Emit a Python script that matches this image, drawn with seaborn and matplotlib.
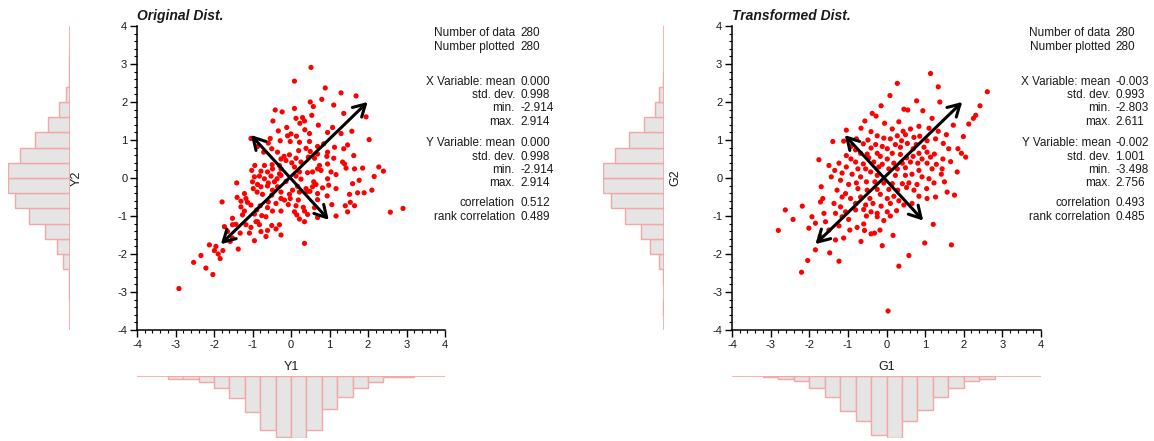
import numpy as np
import pandas as pd
import matplotlib
matplotlib.use("Agg")
import matplotlib.pyplot as plt
from matplotlib.ticker import MultipleLocator
import seaborn as sns

# ---------------- data ----------------
orig_x = [0.52, 0.09, 0.89, 1.30, 1.69, 0.80, 0.50, 1.11, 0.58, 0.09, -0.41, -0.23, 1.37, 0.54, 0.30,
          1.95, 0.13, 0.35, -0.47, 0.23, 0.71, -0.11, 1.08, 0.36, -0.33, 0.95, 1.58, 0.00, -0.09, 0.14,
          0.48, -0.54, -1.04, 1.30, -0.28, -0.02, 0.22, 0.48, 2.03, 0.85, 1.47, -0.59, -0.87, 0.69, 1.13,
          0.39, 1.37, -0.50, 0.20, -0.35, 0.50, -0.71, 0.69, 0.95, 0.93, 1.63, -0.04, -0.18, -0.26, 0.13,
          0.45, 0.61, 1.11, 1.34, -0.13, 0.02, -0.69, -0.49, -0.94, 0.26, 0.74, 0.69, 1.39, -0.30, -0.48,
          -0.26, 0.09, 0.95, -1.02, -0.78, -0.61, 1.43, 1.65, 1.86, 2.28, 2.40, 1.04, 0.78, 0.22, -0.30,
          -0.26, 0.13, -0.82, 0.43, 0.56, -0.95, -0.52, 1.17, 2.16, -0.69, -0.36, 0.95, 0.26, 1.77, -1.41,
          -1.00, -0.87, -0.59, -0.43, -0.13, 0.59, 0.65, -0.78, -0.61, -0.35, 0.17, 0.39, 0.56, 0.82, 1.17,
          1.60, 0.98, 0.04, 0.49, -0.98, -0.88, -0.48, -0.26, 0.22, 0.43, -1.21, -0.74, -0.50, -0.04, 0.69,
          1.90, 2.10, 1.73, 1.52, -1.40, -1.17, -0.26, -0.02, 0.94, 0.69, 0.19, -1.79, -1.30, -1.13, -0.59,
          -0.39, -0.17, -0.07, 1.54, 1.06, -1.30, -1.04, -0.80, -0.61, 0.13, 0.32, 0.61, 1.41, 1.65, -1.21,
          -0.89, -0.48, -0.26, 0.35, 0.43, 0.09, -1.52, -1.26, -0.65, -0.76, -0.95, 0.15, 1.17, 1.47, 2.58,
          2.91, -1.43, -0.91, -0.82, -1.04, -0.50, -0.30, 0.22, 0.35, 0.69, -1.73, -1.52, -1.17, -0.87, -1.65,
          -1.32, -1.08, -0.78, -0.61, -0.39, -0.26, -0.65, -1.52, -1.58, -0.95, -2.12, -1.95, 0.35, -1.99, -1.77,
          -1.37, -2.34, -1.89, -1.84, -2.53, -2.21, -2.03, -2.91]
orig_y = [2.91, 2.55, 2.37, 2.24, 2.16, 2.07, 2.00, 1.92, 1.88, 1.83, 1.79, 1.74, 1.70, 1.65, 1.59,
          1.61, 1.57, 1.50, 1.50, 1.44, 1.39, 1.33, 1.33, 1.27, 1.24, 1.20, 1.23, 1.16, 1.11, 1.10,
          1.17, 1.04, 1.04, 1.17, 0.98, 0.96, 0.94, 0.96, 1.01, 0.90, 0.87, 0.92, 0.83, 0.83, 0.81,
          0.78, 0.77, 0.77, 0.72, 0.68, 0.70, 0.68, 0.63, 0.68, 0.57, 0.59, 0.61, 0.57, 0.50, 0.52,
          0.55, 0.52, 0.52, 0.42, 0.46, 0.40, 0.33, 0.35, 0.33, 0.42, 0.33, 0.24, 0.37, 0.33, 0.24,
          0.24, 0.29, 0.37, 0.20, 0.18, 0.16, 0.26, 0.24, 0.26, 0.29, 0.18, 0.16, 0.20, 0.16, 0.11,
          0.07, 0.05, 0.05, 0.14, 0.16, 0.03, 0.05, 0.09, 0.04, -0.02, -0.02, -0.02, -0.03, -0.06, -0.13,
          -0.10, -0.17, -0.13, -0.10, -0.09, -0.10, -0.17, -0.23, -0.21, -0.23, -0.22, -0.28, -0.23, -0.26, -0.28,
          -0.15, -0.19, -0.32, -0.35, -0.28, -0.37, -0.32, -0.37, -0.37, -0.35, -0.41, -0.43, -0.45, -0.43, -0.41,
          -0.39, -0.32, -0.39, -0.43, -0.51, -0.54, -0.54, -0.54, -0.47, -0.57, -0.58, -0.63, -0.61, -0.64, -0.63,
          -0.67, -0.58, -0.70, -0.64, -0.70, -0.76, -0.71, -0.73, -0.78, -0.73, -0.77, -0.78, -0.73, -0.73, -0.87,
          -0.84, -0.87, -0.87, -0.87, -0.96, -0.89, -1.06, -0.97, -1.02, -0.99, -0.95, -0.97, -1.00, -0.89, -0.90,
          -0.80, -1.22, -1.15, -1.23, -1.30, -1.25, -1.23, -1.08, -1.15, -1.04, -1.28, -1.23, -1.23, -1.15, -1.41,
          -1.45, -1.45, -1.41, -1.38, -1.34, -1.50, -1.54, -1.58, -1.67, -1.65, -1.76, -1.80, -1.72, -1.91, -1.91,
          -1.87, -2.04, -2.00, -2.12, -2.22, -2.37, -2.54, -2.91]

trans_x = [1.14, 0.28, 1.34, 2.61, 0.09, 0.78, 1.38, -0.14, 2.42, 0.45, 0.55, 0.94, -0.37, -0.27, 2.31,
           2.25, 1.18, -0.56, 0.32, -0.05, 0.84, 1.73, 2.13, -1.04, -0.66, 0.62, 1.10, 1.34, 0.15, -0.24,
           0.49, 0.28, 0.71, 0.86, 1.55, 1.99, -0.40, 0.43, -1.39, -0.78, -0.07, 0.10, -0.48, 0.39, 1.05,
           1.27, -1.11, -0.60, -0.28, 0.23, 0.54, 0.77, 1.47, -0.92, -0.40, -0.11, 0.02, 0.36, 0.69, 0.97,
           1.61, 1.85, -0.80, -1.04, -0.67, -0.50, -0.24, 0.15, 0.36, 0.84, 1.05, 1.24, 1.94, 2.05, -1.75,
           -0.92, -0.46, -0.16, 0.02, 0.52, 0.69, 0.92, 1.14, 1.46, 1.66, -1.49, -1.23, -0.80, -0.60, -0.33,
           -0.11, 0.19, 0.41, 0.62, 0.81, 1.05, 1.29, -1.34, -1.04, -0.74, -0.54, -0.41, -0.20, 0.06, 0.28,
           0.49, 0.84, 1.18, 1.44, 1.83, -1.43, -1.15, -0.89, -0.67, -0.24, 0.23, 0.49, 0.66, 0.92, 1.10,
           1.42, -1.19, -0.98, -0.78, -0.52, -0.30, -0.07, 0.15, 0.41, 0.58, 0.79, 1.23, 1.50, -1.69, -1.28,
           -1.06, -0.74, -0.50, -0.24, 0.06, 0.29, 0.52, 0.71, 1.04, 1.57, 1.76, -1.65, -1.36, -1.15, -0.93,
           -0.67, -0.43, -0.16, 0.02, 0.19, 0.32, 0.84, 1.05, 1.27, -2.18, -1.71, -1.19, -0.80, -0.54, -0.35,
           -0.14, 0.10, 0.45, 0.66, -2.62, -1.62, -1.32, -1.06, -0.80, -0.59, -0.40, -0.24, 0.02, 0.26, -2.42,
           -1.93, -1.58, -1.15, -0.98, -0.52, -0.24, -0.07, 0.10, 1.21, -2.01, -1.84, -1.49, -1.23, -0.95, -0.76,
           -0.57, -0.40, -0.17, -0.59, -1.71, -1.32, -1.11, -0.66, -0.31, -0.11, 0.17, 0.99, 1.68, -1.84, -1.47,
           -2.04, -1.23, 0.58, 0.32, -2.20, 0.04, -2.80]
trans_y = [2.75, 2.49, 2.40, 2.27, 2.17, 2.03, 2.00, 1.90, 1.90, 1.81, 1.79, 1.77, 1.70, 1.63, 1.65,
           1.57, 1.57, 1.50, 1.48, 1.44, 1.36, 1.39, 1.42, 1.26, 1.31, 1.29, 1.31, 1.23, 1.29, 1.11,
           1.14, 1.11, 1.07, 1.10, 1.14, 1.09, 1.22, 1.23, 0.96, 1.03, 1.05, 1.03, 1.00, 0.98, 0.98,
           1.03, 0.97, 0.90, 0.88, 0.88, 0.91, 0.88, 0.91, 0.83, 0.79, 0.83, 0.77, 0.81, 0.77, 0.81,
           0.77, 0.77, 0.74, 0.59, 0.65, 0.63, 0.65, 0.65, 0.62, 0.65, 0.68, 0.63, 0.65, 0.55, 0.48,
           0.50, 0.53, 0.57, 0.50, 0.53, 0.57, 0.50, 0.55, 0.50, 0.43, 0.33, 0.39, 0.42, 0.37, 0.42,
           0.36, 0.39, 0.39, 0.42, 0.39, 0.39, 0.36, 0.20, 0.29, 0.24, 0.24, 0.16, 0.29, 0.24, 0.24,
           0.27, 0.20, 0.24, 0.24, 0.16, 0.03, 0.13, 0.10, 0.03, 0.07, 0.07, 0.07, 0.10, 0.03, -0.02,
           0.10, -0.06, -0.17, -0.13, -0.10, -0.10, -0.13, -0.15, -0.15, -0.13, -0.17, -0.13, -0.10, -0.23, -0.32,
           -0.41, -0.28, -0.32, -0.30, -0.30, -0.32, -0.25, -0.32, -0.28, -0.37, -0.45, -0.54, -0.67, -0.50, -0.54,
           -0.50, -0.54, -0.43, -0.54, -0.48, -0.60, -0.48, -0.54, -0.50, -0.74, -0.63, -0.76, -0.67, -0.71, -0.67,
           -0.74, -0.67, -0.71, -0.67, -0.84, -0.93, -0.93, -0.89, -0.84, -0.83, -0.89, -0.93, -0.89, -0.86, -1.09,
           -1.02, -1.15, -1.02, -1.09, -1.00, -1.02, -1.12, -1.00, -1.22, -1.32, -1.19, -1.37, -1.26, -1.37, -1.30,
           -1.38, -1.47, -1.37, -1.21, -1.54, -1.63, -1.58, -1.67, -1.45, -1.78, -1.51, -1.71, -1.76, -1.89, -1.97,
           -2.17, -2.19, -2.04, -2.32, -2.48, -3.50, -1.38]

# marginal histogram counts (bin edges in data units)
y1_edges = [-3.2, -2.8, -2.4, -2.0, -1.6, -1.2, -0.8, -0.4, 0.0, 0.4, 0.8, 1.2, 1.6, 2.0, 2.4, 2.8, 3.2]
y1_counts = [2, 2, 4, 9, 16, 26, 39, 44, 45, 39, 24, 15, 9, 4, 1, 1]
y2_edges = [-3.2, -2.8, -2.4, -2.0, -1.6, -1.2, -0.8, -0.4, 0.0, 0.4, 0.8, 1.2, 1.6, 2.0, 2.4, 2.8, 3.2]
y2_counts = [1, 1, 5, 9, 18, 29, 39, 44, 44, 36, 25, 16, 8, 3, 1, 1]
g1_edges = [-3.2, -2.8, -2.4, -2.0, -1.6, -1.2, -0.8, -0.4, 0.0, 0.4, 0.8, 1.2, 1.6, 2.0, 2.4, 2.8]
g1_counts = [1, 2, 4, 9, 16, 27, 35, 46, 48, 35, 26, 16, 9, 4, 2]
g2_edges = [-3.6, -3.2, -2.8, -2.4, -2.0, -1.6, -1.2, -0.8, -0.4, 0.0, 0.4, 0.8, 1.2, 1.6, 2.0, 2.4, 2.8]
g2_counts = [1, 0, 1, 4, 10, 17, 29, 39, 45, 45, 36, 26, 15, 7, 4, 1]

# principal-axis arrows (tip A, tip B)
orig_arrows = [((-1.82, -1.74), (1.99, 2.00)), ((-1.04, 1.13), (0.98, -1.10))]
trans_arrows = [((-1.84, -1.74), (1.96, 2.00)), ((-1.08, 1.13), (0.95, -1.12))]

stat_labels = ["Number of data", "Number plotted", "X Variable: mean", "std. dev.", "min.", "max.",
               "Y Variable: mean", "std. dev.", "min.", "max.", "correlation", "rank correlation"]
orig_stats = ["280", "280", "0.000", "0.998", "-2.914", "2.914", "0.000", "0.998", "-2.914", "2.914",
              "0.512", "0.489"]
trans_stats = ["280", "280", "-0.003", "0.993", "-2.803", "2.611", "-0.002", "1.001", "-3.498", "2.756",
               "0.493", "0.485"]
titles = ["Original Dist.", "Transformed Dist."]
xlabels = ["Y1", "G1"]
ylabels = ["Y2", "G2"]
ticks = [-4, -3, -2, -1, 0, 1, 2, 3, 4]

# ---------------- styling ----------------
sns.set_theme(style="ticks")
plt.rcParams["font.family"] = ["Liberation Sans", "DejaVu Sans"]
plt.rcParams["axes.unicode_minus"] = False

W, H = 1154, 441
fig = plt.figure(figsize=(W / 100, H / 100), dpi=100)


def add_ax(l, t, w, h):
    return fig.add_axes([l / W, 1 - (t + h) / H, w / W, h / H])


PINK = "#f4a7a7"
GREY = "#e5e5e5"
TXT = "#1a1a1a"
row_y = [33.3, 46.7, 81.7, 95.0, 108.3, 121.7, 143.5, 156.7, 170.0, 183.3, 203.3, 216.7]

panels = [
    dict(x=orig_x, y=orig_y, arrows=orig_arrows, stats=orig_stats, left=137, width=308,
         hl=8.3, hw=61.7, bx=(y1_edges, y1_counts), by=(y2_edges, y2_counts), lab_r=515, val_l=520.5,
         ylab_x=77),
    dict(x=trans_x, y=trans_y, arrows=trans_arrows, stats=trans_stats, left=732, width=309,
         hl=603, hw=61, bx=(g1_edges, g1_counts), by=(g2_edges, g2_counts), lab_r=1110.5, val_l=1115,
         ylab_x=675),
]

for i, p in enumerate(panels):
    ax = add_ax(p["left"], 26, p["width"], 304)
    df = pd.DataFrame({"x": p["x"], "y": p["y"]})
    sns.scatterplot(data=df, x="x", y="y", ax=ax, color="#ff0000", s=14, edgecolor="none", linewidth=0)
    for a, b in p["arrows"]:
        ax.annotate("", xy=b, xytext=a,
                    arrowprops=dict(arrowstyle="<->,head_length=0.7,head_width=0.4", lw=2.2,
                                    color="black", shrinkA=0, shrinkB=0))
    ax.set_xlim(-4, 4)
    ax.set_ylim(-4, 4)
    ax.set_xticks(ticks)
    ax.set_yticks(ticks)
    ax.set_xticklabels([str(t) for t in ticks])
    ax.set_yticklabels([str(t) for t in ticks])
    ax.xaxis.set_minor_locator(MultipleLocator(0.2))
    ax.yaxis.set_minor_locator(MultipleLocator(0.2))
    ax.tick_params(which="major", length=5, width=1, labelsize=8, pad=2, color="black", labelcolor=TXT)
    ax.tick_params(which="minor", length=2.5, width=0.8, color="black")
    for s in ["top", "right"]:
        ax.spines[s].set_visible(False)
    for s in ["left", "bottom"]:
        ax.spines[s].set_color("black")
        ax.spines[s].set_linewidth(1.1)
    ax.set_xlabel("")
    ax.set_ylabel("")
    ax.text(0.0, 1.0 + 10 / 304, titles[i], transform=ax.transAxes, fontsize=10,
            fontweight="bold", fontstyle="italic", ha="left", va="center", color=TXT)

    # statistics text
    for lab, val, yy in zip(stat_labels, p["stats"], row_y):
        fig.text(p["lab_r"] / W, 1 - yy / H, lab, ha="right", va="center", fontsize=8.5, color=TXT)
        fig.text(p["val_l"] / W, 1 - yy / H, val, ha="left", va="center", fontsize=8.5, color=TXT)

    # left marginal histogram (vertical variable)
    axl = add_ax(p["hl"], 26, p["hw"], 304)
    e, c = p["by"]
    centers = [(e[k] + e[k + 1]) / 2 for k in range(len(c))]
    sns.histplot(y=centers, weights=c, bins=e, ax=axl, color=GREY, edgecolor=PINK,
                 linewidth=1, alpha=1)
    axl.axvline(0, color=PINK, lw=1.2)
    axl.set_xlim(max(c), 0)
    axl.set_ylim(-4, 4)
    axl.axis("off")
    fig.text(p["ylab_x"] / W, 1 - 178 / H, ylabels[i], rotation=90, ha="center", va="center",
             fontsize=9, color=TXT)

    # bottom marginal histogram (horizontal variable)
    axb = add_ax(p["left"], 376, p["width"], 62)
    e, c = p["bx"]
    centers = [(e[k] + e[k + 1]) / 2 for k in range(len(c))]
    sns.histplot(x=centers, weights=c, bins=e, ax=axb, color=GREY, edgecolor=PINK,
                 linewidth=1, alpha=1)
    axb.axhline(0, color=PINK, lw=1.2)
    axb.set_ylim(max(c), 0)
    axb.set_xlim(-4, 4)
    axb.axis("off")
    fig.text((p["left"] + p["width"] / 2) / W, 1 - 367 / H, xlabels[i], ha="center", va="center",
             fontsize=9, color=TXT)

fig.savefig("out.png", dpi=100)
